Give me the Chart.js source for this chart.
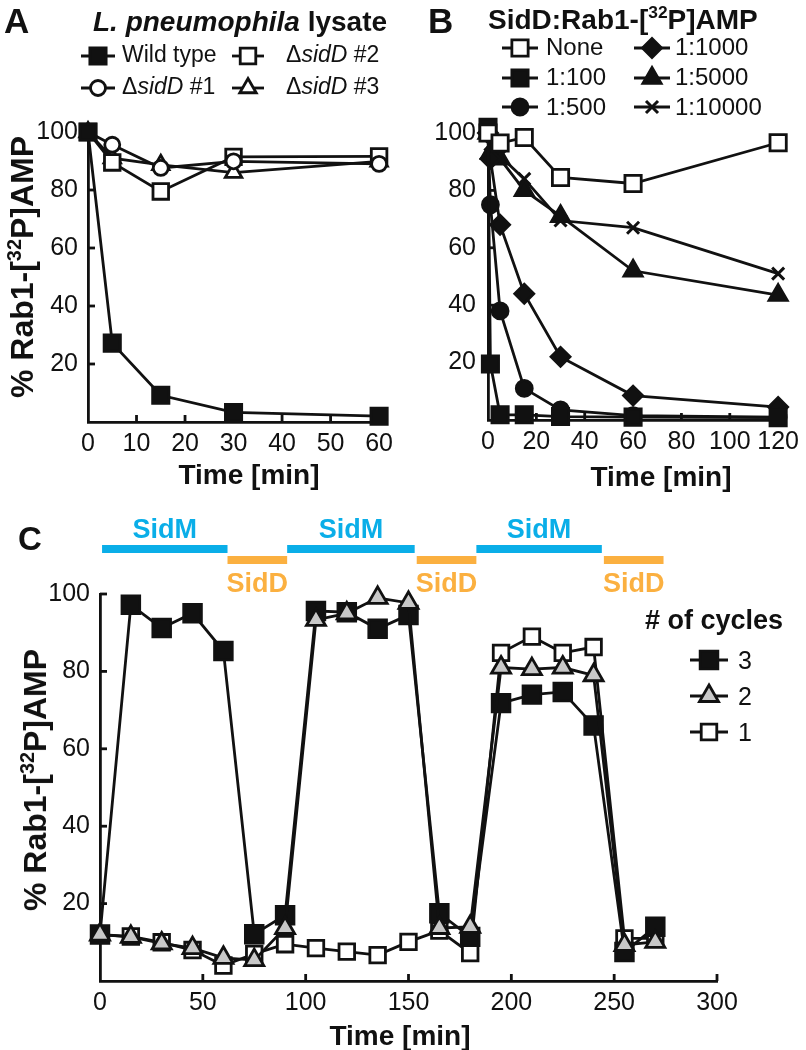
<!DOCTYPE html>
<html>
<head>
<meta charset="utf-8">
<script src="https://cdn.jsdelivr.net/npm/chart.js@4.4.1/dist/chart.umd.min.js"></script>
<style>
  body { margin: 0; background: #fff; }
  #page { position: relative; width: 806px; height: 1050px; overflow: hidden;
          font-family: "Liberation Sans", Arial, Helvetica, sans-serif; color: #111; }
  canvas { position: absolute; }
  .t { position: absolute; white-space: nowrap; line-height: 1; }
  .b { font-weight: bold; }
  .c { transform: translateX(-50%); }
  .yt { position: absolute; white-space: nowrap; line-height: 1; font-weight: bold; font-size: 32px;
        transform: translate(-50%, -50%) rotate(-90deg); }
  sup { font-size: 0.62em; line-height: 0; vertical-align: 0.62em; }
</style>
</head>
<body>
<div id="page">
  <canvas id="chartA" width="400" height="510" style="left:0;top:0"></canvas>
  <canvas id="chartB" width="403" height="510" style="left:403px;top:0"></canvas>
  <canvas id="chartC" width="806" height="540" style="left:0;top:510px"></canvas>

  <!-- panel A -->
  <div class="t b" style="left:4px;top:3px;font-size:35px">A</div>
  <div class="t b" style="left:93px;top:8px;font-size:28px"><i>L. pneumophila</i> lysate</div>
  <div class="t" style="left:122px;top:43px;font-size:23px">Wild type</div>
  <div class="t" style="left:286px;top:43px;font-size:23px">&Delta;<i>sidD</i> #2</div>
  <div class="t" style="left:122px;top:75px;font-size:23px">&Delta;<i>sidD</i> #1</div>
  <div class="t" style="left:286px;top:75px;font-size:23px">&Delta;<i>sidD</i> #3</div>
  <div class="yt" style="left:22px;top:267px">% Rab1-[<sup>32</sup>P]AMP</div>
  <div class="t b c" style="left:249px;top:461px;font-size:28px">Time [min]</div>

  <!-- panel B -->
  <div class="t b" style="left:428px;top:3px;font-size:35px">B</div>
  <div class="t b" style="left:488px;top:6px;font-size:28px">SidD:Rab1-[<sup>32</sup>P]AMP</div>
  <div class="t" style="left:546px;top:35px;font-size:24px">None</div>
  <div class="t" style="left:675px;top:35px;font-size:24px">1:1000</div>
  <div class="t" style="left:546px;top:65px;font-size:24px">1:100</div>
  <div class="t" style="left:675px;top:65px;font-size:24px">1:5000</div>
  <div class="t" style="left:546px;top:95px;font-size:24px">1:500</div>
  <div class="t" style="left:675px;top:95px;font-size:24px">1:10000</div>
  <div class="t b c" style="left:661px;top:463px;font-size:28px">Time [min]</div>

  <!-- panel C -->
  <div class="t b" style="left:18px;top:522px;font-size:33px">C</div>
  <div class="t b" style="left:645px;top:607px;font-size:27px"># of cycles</div>
  <div class="t" style="left:738px;top:648px;font-size:25px">3</div>
  <div class="t" style="left:738px;top:684px;font-size:25px">2</div>
  <div class="t" style="left:738px;top:720px;font-size:25px">1</div>
  <div class="yt" style="left:35px;top:780px">% Rab1-[<sup>32</sup>P]AMP</div>
  <div class="t b c" style="left:400px;top:1022px;font-size:28px">Time [min]</div>
</div>

<script>
// ---- panel A: L. pneumophila lysate ----
const timesA = [0, 5, 15, 30, 60];
const wildType = [100, 27.2, 9.2, 3.3, 2];
const sidD1 = [100, 95.6, 87.6, 89.9, 89];
const sidD2 = [100, 89.5, 79.5, 91.4, 91.6];
const sidD3 = [100, 91, 88.7, 86, 89.9];

// ---- panel B: SidD:Rab1 ratio ----
const timesNone = [0, 5, 15, 30, 60, 120];
const ratioNone = [100, 96.5, 98.4, 84.5, 82.4, 96.6];
const timesB = [0, 1, 5, 15, 30, 60, 120];
const ratio100 = [102, 19.5, 1.8, 1.8, 1.2, 1, 0.8];
const ratio500 = [100, 75, 38, 11, 3.5, 1.5, 1];
const ratio1000 = [100, 91, 68, 44, 22, 8.5, 4.5];
const ratio5000 = [100, 93, 91, 80, 71, 52, 43.5];
const ratio10000 = [100, 96, 92, 84, 69.5, 67, 51];

// ---- panel C: cycles ----
const timesC = [0, 15, 30, 45, 60, 75, 90, 105, 120, 135, 150, 165, 180, 195, 210, 225, 240, 255, 270];
const cycles3 = [12, 97.2, 91.2, 95, 85.3, 12.1, 17, 95.6, 95.3, 91, 94.6, 17.5, 11.4, 71.8, 74, 74.7, 66, 7.5, 14];
const cycles2 = [12, 11.4, 9.7, 8.5, 6, 5.4, 13.7, 93.3, 95, 99, 97.7, 13.7, 14, 81, 80.6, 81, 79, 9.3, 10.1];
const cycles1 = [12, 11.5, 10, 8, 4, 7, 9.5, 8.5, 7.6, 6.7, 10.1, 13, 7.2, 84.8, 89, 84.8, 86.3, 11, 11];
const sidMSpans = [[1, 62], [91, 153], [183, 244]];
const sidDSpans = [[62, 91], [154, 183], [245, 274]];

const yTicks = [20, 40, 60, 80, 100];

const INK = '#111';
const BLUE = '#0aaee8';
const ORANGE = '#fbb040';
const FONT = '"Liberation Sans", Arial, Helvetica, sans-serif';
const LW = 2.8;

Chart.defaults.font.family = FONT;
Chart.defaults.font.size = 25;
Chart.defaults.color = INK;

function series(label, xs, ys, style) {
  return Object.assign({
    label,
    data: xs.map((x, i) => ({ x, y: ys[i] })),
    borderColor: INK,
    borderWidth: LW,
    pointBorderColor: INK,
    pointBorderWidth: LW,
    pointBackgroundColor: INK,
    pointHoverRadius: 0,
    tension: 0,
    clip: false
  }, style);
}

function baseOptions(p) {
  return {
    responsive: false,
    animation: false,
    events: [],
    layout: { padding: { left: 0, top: p.top, right: p.right, bottom: 0 } },
    plugins: { legend: { display: false }, tooltip: { enabled: false } },
    scales: {
      x: {
        type: 'linear', min: p.xmin, max: p.xmax,
        afterFit: s => { s.height = p.xH; },
        ticks: { stepSize: p.xstep, padding: 7, autoSkip: false, maxRotation: 0 },
        grid: { display: false, drawTicks: false },
        border: { display: true, color: INK, width: LW }
      },
      y: {
        type: 'linear', min: 0, max: 100,
        afterFit: s => { s.width = p.yW; },
        afterBuildTicks: s => { s.ticks = [0].concat(yTicks).map(v => ({ value: v })); },
        ticks: { padding: p.yPad, autoSkip: false, callback: v => (v === 0 ? '' : v) },
        grid: { display: false, drawTicks: false },
        border: { display: true, color: INK, width: LW }
      }
    }
  };
}

// short tick marks pointing into the plot
const inTicks = {
  id: 'inTicks',
  beforeDatasetsDraw(chart) {
    const ctx = chart.ctx, a = chart.chartArea;
    const xs = chart.scales.x, ys = chart.scales.y;
    ctx.save();
    ctx.strokeStyle = INK;
    ctx.lineWidth = LW;
    xs.ticks.forEach(t => {
      if (t.value === xs.min) return;
      const px = xs.getPixelForValue(t.value);
      ctx.beginPath(); ctx.moveTo(px, a.bottom); ctx.lineTo(px, a.bottom - 7); ctx.stroke();
    });
    ys.ticks.forEach(t => {
      if (t.value === 0) return;
      const py = ys.getPixelForValue(t.value);
      ctx.beginPath(); ctx.moveTo(a.left, py); ctx.lineTo(a.left + 7, py); ctx.stroke();
    });
    ctx.restore();
  }
};

function symLegend(items) {
  return {
    id: 'symLegend',
    afterDraw(chart) {
      const ctx = chart.ctx;
      items.forEach(it => {
        const ds = chart.data.datasets[it.ds];
        ctx.save();
        ctx.strokeStyle = INK;
        ctx.lineWidth = LW;
        ctx.beginPath(); ctx.moveTo(it.x - it.h, it.y); ctx.lineTo(it.x + it.h, it.y); ctx.stroke();
        ctx.fillStyle = ds.pointBackgroundColor;
        ctx.lineWidth = ds.pointBorderWidth;
        Chart.helpers.drawPoint(ctx, {
          pointStyle: ds.pointStyle, radius: ds.pointRadius,
          borderWidth: ds.pointBorderWidth, rotation: 0
        }, it.x, it.y);
        ctx.restore();
      });
    }
  };
}

const phaseBars = {
  id: 'phaseBars',
  afterDraw(chart) {
    const ctx = chart.ctx, xs = chart.scales.x;
    ctx.save();
    ctx.font = 'bold 27px ' + FONT;
    ctx.textAlign = 'center';
    ctx.textBaseline = 'alphabetic';
    sidMSpans.forEach(([a, b]) => {
      const x1 = xs.getPixelForValue(a), x2 = xs.getPixelForValue(b);
      ctx.fillStyle = BLUE;
      ctx.fillRect(x1, 35, x2 - x1, 8);
      ctx.fillText('SidM', (x1 + x2) / 2, 28);
    });
    sidDSpans.forEach(([a, b]) => {
      const x1 = xs.getPixelForValue(a), x2 = xs.getPixelForValue(b);
      ctx.fillStyle = ORANGE;
      ctx.fillRect(x1, 46, x2 - x1, 8);
      ctx.fillText('SidD', (x1 + x2) / 2, 82);
    });
    ctx.restore();
  }
};

// ---- chart A ----
const dsA = [
  series('Wild type', timesA, wildType, { pointStyle: 'rect', pointRadius: 11.5 }),
  series('ΔsidD #1', timesA, sidD1, { pointStyle: 'circle', pointRadius: 7.5, pointBackgroundColor: '#fff' }),
  series('ΔsidD #2', timesA, sidD2, { pointStyle: 'rect', pointRadius: 11, pointBackgroundColor: '#fff' }),
  series('ΔsidD #3', timesA, sidD3, { pointStyle: 'triangle', pointRadius: 9.5, pointBackgroundColor: '#fff' })
];
new Chart(document.getElementById('chartA'), {
  type: 'line',
  data: { datasets: dsA },
  options: baseOptions({ top: 132, right: 20, xmin: 0, xmax: 60, xstep: 10, xH: 88, yW: 88, yPad: 10 }),
  plugins: [inTicks, symLegend([
    { ds: 0, x: 98, y: 56, h: 17 }, { ds: 2, x: 248, y: 56, h: 16 },
    { ds: 1, x: 98, y: 88, h: 17 }, { ds: 3, x: 248, y: 88, h: 16 }
  ])]
});

// ---- chart B ----
const dsB = [
  series('None', timesNone, ratioNone, { pointStyle: 'rect', pointRadius: 11.5, pointBackgroundColor: '#fff' }),
  series('1:100', timesB, ratio100, { pointStyle: 'rect', pointRadius: 11.5 }),
  series('1:500', timesB, ratio500, { pointStyle: 'circle', pointRadius: 8 }),
  series('1:1000', timesB, ratio1000, { pointStyle: 'rectRot', pointRadius: 9.5 }),
  series('1:5000', timesB, ratio5000, { pointStyle: 'triangle', pointRadius: 10.5 }),
  series('1:10000', timesB, ratio10000, { pointStyle: 'crossRot', pointRadius: 8.5, pointBorderWidth: 3 })
];
new Chart(document.getElementById('chartB'), {
  type: 'line',
  data: { datasets: dsB },
  options: baseOptions({ top: 133, right: 21, xmin: 0, xmax: 120, xstep: 20, xH: 90, yW: 85, yPad: 12 }),
  plugins: [inTicks, symLegend([
    { ds: 0, x: 117, y: 48, h: 18 }, { ds: 3, x: 249, y: 48, h: 18 },
    { ds: 1, x: 117, y: 78, h: 18 }, { ds: 4, x: 249, y: 78, h: 18 },
    { ds: 2, x: 117, y: 107, h: 18 }, { ds: 5, x: 249, y: 107, h: 18 }
  ])]
});

// ---- chart C ----
const dsC = [
  series('2', timesC, cycles2, { pointStyle: 'triangle', pointRadius: 11, pointBackgroundColor: '#c8c8c8' }),
  series('3', timesC, cycles3, { pointStyle: 'rect', pointRadius: 12.5 }),
  series('1', timesC, cycles1, { pointStyle: 'rect', pointRadius: 11, pointBackgroundColor: '#fff' })
];
new Chart(document.getElementById('chartC'), {
  type: 'line',
  data: { datasets: dsC },
  options: baseOptions({ top: 84, right: 89, xmin: 0, xmax: 300, xstep: 50, xH: 69, yW: 100, yPad: 10 }),
  plugins: [inTicks, phaseBars, symLegend([
    { ds: 1, x: 709, y: 150, h: 19 },
    { ds: 0, x: 709, y: 186, h: 19 },
    { ds: 2, x: 709, y: 222, h: 19 }
  ])]
});
</script>
</body>
</html>
